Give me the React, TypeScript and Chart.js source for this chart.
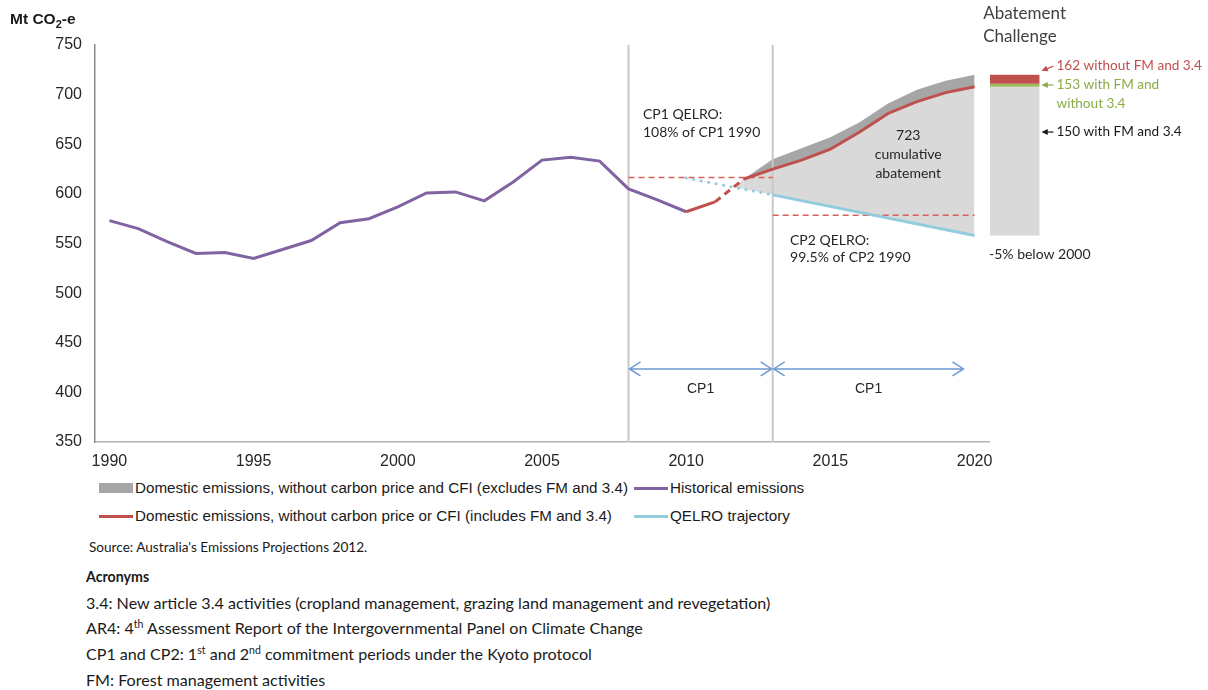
import React, { useEffect, useRef } from "react";
import { Chart, registerables } from "chart.js";

Chart.register(...registerables);

// ---------------- data ----------------
const histYears = [1990, 1991, 1992, 1993, 1994, 1995, 1996, 1997, 1998, 1999, 2000, 2001, 2002, 2003, 2004, 2005, 2006, 2007, 2008, 2009, 2010];
const histValues = [573, 565, 552, 540, 541, 535, 544, 553, 571, 575, 587, 601, 602, 593, 612, 634, 637, 633, 605, 594, 582];

const redYears = [2010, 2011, 2012, 2013, 2014, 2015, 2016, 2017, 2018, 2019, 2020];
const redValues = [582, 592, 615, 625, 634, 645, 662, 681, 693, 702, 708];

const grayYears = [2012, 2013, 2014, 2015, 2016, 2017, 2018, 2019, 2020];
const grayValues = [615, 635, 646, 657, 672, 691, 705, 714, 720];

const qelroYears = [2010, 2013, 2020];
const qelroValues = [616, 599, 558];

const cp1QelroYears = [2008, 2013];
const cp1QelroValue = 616.5;
const cp2QelroYears = [2013, 2020];
const cp2QelroValue = 578.5;

const periodBoundaries = [2008, 2013];

const xTickValues = [1990, 1995, 2000, 2005, 2010, 2015, 2020];
const yMin = 350;
const yMax = 750;
const yStep = 50;

const challengeBase = 558;
const challengeValues = [150, 153, 162];
const challengeLabels = [["150 with FM and 3.4"], ["153 with FM and", "without 3.4"], ["162 without FM and 3.4"]];

const legendLabels = [
  "Domestic emissions, without carbon price and CFI (excludes FM and 3.4)",
  "Historical emissions",
  "Domestic emissions, without carbon price or CFI (includes FM and 3.4)",
  "QELRO trajectory",
];

// ---------------- styles ----------------
const PURPLE = "#8064a2";
const RED = "#c0504d";
const BLUE = "#93cddd";
const DARK_GRAY = "#a6a6a6";
const LIGHT_GRAY = "#d9d9d9";
const GREEN = "#9bbb59";
const DASH_RED = "#d8605b";
const VLINE = "#c8c8c8";
const ARROW_BLUE = "#6f9bd3";
const TEXT = "#262626";
const CAL = "Lato, 'Open Sans', sans-serif";
const ARIAL = "'Liberation Sans', Arial, sans-serif";

const pts = (xs: number[], ys: number[]) => xs.map((x, i) => ({ x, y: ys[i] }));

const figurePlugin = {
  id: "figureAnnotations",
  afterDatasetsDraw(chart: any) {
    const { ctx, scales } = chart;
    const px = (v: number) => scales.x.getPixelForValue(v);
    const py = (v: number) => scales.y.getPixelForValue(v);
    ctx.save();

    // Abatement challenge stacked bar (right of plot)
    const bx0 = px(2020.5) + 1;
    const bx1 = px(2022.25);
    const colors = [LIGHT_GRAY, GREEN, RED];
    let prev = challengeBase;
    challengeValues.forEach((v, i) => {
      const top = challengeBase + v;
      ctx.fillStyle = colors[i];
      ctx.fillRect(bx0, py(top), bx1 - bx0, py(prev) - py(top));
      prev = top;
    });

    const textBlock = (lines: string[], x: number, y: number, gap: number, font: string, color: string, align: string) => {
      ctx.font = font;
      ctx.fillStyle = color;
      ctx.textAlign = align;
      ctx.textBaseline = "middle";
      lines.forEach((l, i) => ctx.fillText(l, x, y + i * gap));
    };

    // challenge labels + small arrows
    const labelX = bx1 + 17;
    const labelColors = ["#1a1a1a", "#8aab47", RED];
    const labelY = [py(662.3), py(709.7), py(728.8)];
    const arrowTargetY = [py(662.3), py(709.7), py(724)];
    challengeLabels.forEach((lines, i) => {
      const c = labelColors[i];
      const y0 = labelY[i];
      const y1 = arrowTargetY[i];
      const xs = labelX - 3;
      const xe = bx1 + 2;
      ctx.strokeStyle = c;
      ctx.fillStyle = c;
      ctx.lineWidth = 1.2;
      ctx.beginPath();
      ctx.moveTo(xs, y0);
      ctx.lineTo(xe + 5, y1 + (y0 - y1) * 0.35);
      ctx.stroke();
      const ang = Math.atan2(y1 - y0, xe - xs);
      ctx.beginPath();
      ctx.moveTo(xe, y1);
      ctx.lineTo(xe - 7 * Math.cos(ang - 0.45), y1 - 7 * Math.sin(ang - 0.45));
      ctx.lineTo(xe - 7 * Math.cos(ang + 0.45), y1 - 7 * Math.sin(ang + 0.45));
      ctx.closePath();
      ctx.fill();
      textBlock(lines, labelX, y0, 18.5, `13.6px ${CAL}`, c, "left");
    });

    textBlock(["Abatement", "Challenge"], px(2020.3), 14, 22.5, `17px ${CAL}`, "#404040", "left");
    textBlock(["-5% below 2000"], px(2020.5), py(539.4), 18, `14px ${CAL}`, TEXT, "left");

    // in-plot notes
    textBlock(["CP1 QELRO:", "108% of CP1 1990"], px(2008.5), py(679.5), 18, `14px ${CAL}`, TEXT, "left");
    textBlock(["723", "cumulative", "abatement"], px(2017.7), py(659.3), 19, `14px ${CAL}`, TEXT, "center");
    textBlock(["CP2 QELRO:", "99.5% of CP2 1990"], px(2013.6), py(553.5), 17, `14px ${CAL}`, TEXT, "left");

    // commitment period arrows
    const periods = [
      { from: periodBoundaries[0], to: periodBoundaries[1], label: "CP1" },
      { from: periodBoundaries[1], to: 2019.65, label: "CP1" },
    ];
    const ay = py(423.6);
    ctx.strokeStyle = ARROW_BLUE;
    ctx.lineWidth = 1.5;
    periods.forEach((p) => {
      const a = px(p.from) + 1;
      const b = px(p.to) - 1;
      ctx.beginPath();
      ctx.moveTo(a, ay);
      ctx.lineTo(b, ay);
      ctx.moveTo(a + 11, ay - 7);
      ctx.lineTo(a, ay);
      ctx.lineTo(a + 11, ay + 7);
      ctx.moveTo(b - 11, ay - 7);
      ctx.lineTo(b, ay);
      ctx.lineTo(b - 11, ay + 7);
      ctx.stroke();
      textBlock([p.label], (px(p.from) + px(p.to)) / 2, py(403.4), 0, `14px ${ARIAL}`, TEXT, "center");
    });

    ctx.restore();
  },
};

export default function App() {
  const canvasRef = useRef<HTMLCanvasElement>(null);

  useEffect(() => {
    const canvas = canvasRef.current;
    if (!canvas) return;
    const chart = new Chart(canvas, {
      type: "line",
      data: {
        datasets: [
          {
            label: legendLabels[0],
            data: pts(grayYears, grayValues),
            borderWidth: 0,
            borderColor: "rgba(0,0,0,0)",
            backgroundColor: DARK_GRAY,
            fill: 1,
            pointRadius: 0,
          },
          {
            label: legendLabels[2],
            data: pts(redYears, redValues),
            borderColor: RED,
            borderWidth: 3,
            pointRadius: 0,
            fill: { target: 2, above: LIGHT_GRAY, below: "rgba(0,0,0,0)" },
            segment: {
              borderDash: (c: any) => (c.p0DataIndex === 1 ? [7, 5] : undefined),
            },
          },
          {
            label: legendLabels[3],
            data: pts(qelroYears, qelroValues),
            borderColor: BLUE,
            borderWidth: 3,
            pointRadius: 0,
            fill: false,
            segment: {
              borderDash: (c: any) => (c.p0DataIndex === 0 ? [0.1, 7.5] : undefined),
              borderCapStyle: (c: any) => (c.p0DataIndex === 0 ? "round" : "butt"),
            },
          },
          {
            label: legendLabels[1],
            data: pts(histYears, histValues),
            borderColor: PURPLE,
            borderWidth: 3,
            pointRadius: 0,
            fill: false,
          },
          {
            label: "CP1 QELRO",
            data: pts(cp1QelroYears, cp1QelroYears.map(() => cp1QelroValue)),
            borderColor: DASH_RED,
            borderWidth: 1.5,
            borderDash: [6, 4],
            pointRadius: 0,
            fill: false,
          },
          {
            label: "CP2 QELRO",
            data: pts(cp2QelroYears, cp2QelroYears.map(() => cp2QelroValue)),
            borderColor: DASH_RED,
            borderWidth: 1.5,
            borderDash: [6, 4],
            pointRadius: 0,
            fill: false,
          },
          ...periodBoundaries.map((yr) => ({
            label: "boundary " + yr,
            data: [
              { x: yr, y: yMin },
              { x: yr, y: yMax },
            ],
            borderColor: VLINE,
            borderWidth: 2,
            pointRadius: 0,
            fill: false,
          })),
        ],
      },
      options: {
        animation: false,
        responsive: false,
        devicePixelRatio: 1,
        layout: { padding: { left: 0, top: 45, right: 219, bottom: 0 } },
        plugins: {
          legend: { display: false },
          tooltip: { enabled: false },
          filler: { drawTime: "beforeDatasetsDraw", propagate: true },
        },
        elements: { line: { tension: 0 } },
        scales: {
          x: {
            type: "linear",
            min: 1989.5,
            max: 2020.5,
            afterBuildTicks: (scale: any) => {
              scale.ticks = xTickValues.map((v) => ({ value: v }));
            },
            afterFit: (scale: any) => {
              scale.height = 33;
            },
            ticks: {
              callback: (v: any) => String(v),
              font: { family: ARIAL, size: 16 },
              color: TEXT,
              padding: 10,
              maxRotation: 0,
              autoSkip: false,
            },
            grid: { display: false, drawTicks: false },
            border: { display: true, color: "#b4b4b4", width: 1.5 },
          },
          y: {
            min: yMin,
            max: yMax,
            afterFit: (scale: any) => {
              scale.width = 95;
            },
            ticks: {
              stepSize: yStep,
              font: { family: ARIAL, size: 16 },
              color: TEXT,
              padding: 13,
            },
            grid: { display: false, drawTicks: false },
            border: { display: true, color: "#8a8a8a", width: 1.5 },
          },
        },
      },
      plugins: [figurePlugin],
    } as any);
    return () => chart.destroy();
  }, []);

  const legendCols = [99, 634];
  const legendRows = [488, 516];
  const legendMarkers = [
    { color: DARK_GRAY, box: true },
    { color: PURPLE, box: false },
    { color: RED, box: false },
    { color: BLUE, box: false },
  ];

  const abs = (left: number, top: number, extra: any = {}) => ({ position: "absolute" as const, left, top, whiteSpace: "nowrap" as const, ...extra });
  const body = { fontFamily: CAL, fontSize: 16.1, lineHeight: "20px" };
  const sup = { fontSize: 10.5, lineHeight: 0 };

  return (
    <div style={{ position: "absolute", left: 0, top: 0, width: 1208, height: 690, background: "#fff", overflow: "hidden", color: "#1a1a1a" }}>
      <canvas ref={canvasRef} width={1208} height={475} style={{ position: "absolute", left: 0, top: 0, width: 1208, height: 475 }} />
      <div style={abs(10, 10, { fontFamily: ARIAL, fontWeight: "bold", fontSize: 15.5, lineHeight: "18px" })}>
        Mt CO<sub style={{ fontSize: 11, verticalAlign: -4, lineHeight: 0 }}>2</sub>-e
      </div>
      {legendLabels.map((label, i) => {
        const col = i % 2;
        const row = Math.floor(i / 2);
        const m = legendMarkers[i];
        const x = legendCols[col];
        const y = legendRows[row];
        return (
          <React.Fragment key={label}>
            <div style={abs(x, m.box ? y - 5 : y - 1.5, { width: 34, height: m.box ? 10 : 3, background: m.color })} />
            <div style={abs(x + 36, y - 10, { fontFamily: ARIAL, fontSize: 15.2, lineHeight: "20px", color: "#1a1a1a" })}>{label}</div>
          </React.Fragment>
        );
      })}
      <div style={abs(89, 538, { fontFamily: CAL, fontSize: 13.6, lineHeight: "18px", color: "#1a1a1a" })}>
        Source: Australia's Emissions Projections 2012.
      </div>
      <div style={abs(86, 567, { fontFamily: CAL, fontSize: 14.2, fontWeight: "bold", lineHeight: "20px" })}>Acronyms</div>
      <div style={abs(86, 593, body)}>
        3.4: New article 3.4 activities (cropland management, grazing land management and revegetation)
      </div>
      <div style={abs(86, 618, body)}>
        AR4: 4<sup style={sup}>th</sup> Assessment Report of the Intergovernmental Panel on Climate Change
      </div>
      <div style={abs(86, 644, body)}>
        CP1 and CP2: 1<sup style={sup}>st</sup> and 2<sup style={sup}>nd</sup> commitment periods under the Kyoto protocol
      </div>
      <div style={abs(86, 670, body)}>FM: Forest management activities</div>
    </div>
  );
}
